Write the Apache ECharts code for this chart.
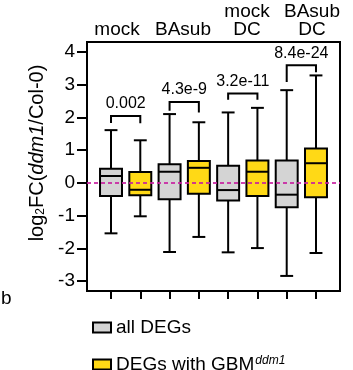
<!DOCTYPE html>
<html><head><meta charset="utf-8">
<script src="https://cdn.jsdelivr.net/npm/echarts@6/dist/echarts.min.js"></script>
<style>html,body{margin:0;padding:0;background:#fff}#c{width:353px;height:370px}</style>
</head><body><div id="c"></div>
<script>
const groups = ['mock', 'BAsub', 'mock\nDC', 'BAsub\nDC'];
const seriesNames = ['all DEGs', 'DEGs with GBM'];
// [min, Q1, median, Q3, max]
const allDEGs = [
  [-1.54, -0.40, 0.21, 0.43, 1.61],
  [-2.11, -0.50, 0.34, 0.57, 2.10],
  [-2.12, -0.54, -0.22, 0.52, 2.15],
  [-2.84, -0.74, -0.36, 0.68, 2.83]
];
const gbmDEGs = [
  [-1.02, -0.38, -0.21, 0.33, 1.30],
  [-1.65, -0.33, 0.46, 0.67, 1.85],
  [-1.99, -0.40, 0.34, 0.68, 2.29],
  [-2.14, -0.44, 0.60, 1.05, 3.28]
];
const pValues = ['0.002', '4.3e-9', '3.2e-11', '8.4e-24'];
const bracketTop = [2.04, 2.47, 2.73, 3.59];
const bracketLeftEnd = [1.83, 2.20, 2.54, 3.08];
const bracketRightEnd = [1.82, 2.15, 2.54, 3.38];
const yTicks = [-3, -2, -1, 0, 1, 2, 3, 4];
const boxPositions = [0, 1, 2, 3, 4, 5, 6, 7];

const FONT = '"Liberation Sans", Arial, Helvetica, sans-serif';
const GREY = '#d4d4d4';
const YELLOW = '#ffd916';

function boxRender(params, api) {
  const x = api.value(0);
  const mn = api.coord([x, api.value(1)]);
  const q1 = api.coord([x, api.value(2)]);
  const md = api.coord([x, api.value(3)]);
  const q3 = api.coord([x, api.value(4)]);
  const mx = api.coord([x, api.value(5)]);
  const unit = api.size([1, 0])[0];
  const hw = unit * 0.375, cw = unit * 0.22;
  const cx = mn[0];
  const ls = { stroke: '#000', lineWidth: 2 };
  return {
    type: 'group',
    children: [
      { type: 'line', shape: { x1: cx, y1: q3[1], x2: cx, y2: mx[1] }, style: ls },
      { type: 'line', shape: { x1: cx, y1: q1[1], x2: cx, y2: mn[1] }, style: ls },
      { type: 'line', shape: { x1: cx - cw, y1: mx[1], x2: cx + cw, y2: mx[1] }, style: ls },
      { type: 'line', shape: { x1: cx - cw, y1: mn[1], x2: cx + cw, y2: mn[1] }, style: ls },
      { type: 'rect', shape: { x: cx - hw, y: q3[1], width: hw * 2, height: q1[1] - q3[1] },
        style: { fill: api.visual('color'), stroke: '#000', lineWidth: 2 } },
      { type: 'line', shape: { x1: cx - hw, y1: md[1], x2: cx + hw, y2: md[1] }, style: ls }
    ]
  };
}

function bracketRender(params, api) {
  const x1 = api.value(0), x2 = api.value(1);
  const t1 = api.coord([x1, api.value(2)]);
  const t2 = api.coord([x2, api.value(2)]);
  const l = api.coord([x1, api.value(3)]);
  const r = api.coord([x2, api.value(4)]);
  return {
    type: 'group',
    children: [
      { type: 'polyline', shape: { points: [l, t1, t2, r] }, style: { stroke: '#000', lineWidth: 2, fill: null } },
      { type: 'text', x: (t1[0] + t2[0]) / 2, y: t1[1] - 4,
        style: { text: pValues[params.dataIndex], fontSize: 16, fontFamily: FONT, fill: '#000', align: 'center', verticalAlign: 'bottom' } }
    ]
  };
}

const greyData = allDEGs.map((d, i) => [boxPositions[2 * i]].concat(d));
const yellowData = gbmDEGs.map((d, i) => [boxPositions[2 * i + 1]].concat(d));
const bracketData = pValues.map((p, i) => [boxPositions[2 * i], boxPositions[2 * i + 1], bracketTop[i], bracketLeftEnd[i], bracketRightEnd[i]]);

const chart = echarts.init(document.getElementById('c'), null, { renderer: 'canvas' });
const topLabelX = [117, 183, 247, 312];
chart.setOption({
  animation: false,
  backgroundColor: '#fff',
  textStyle: { fontFamily: FONT },
  grid: { left: 87, right: 13, top: 42, bottom: 79, show: true, borderColor: '#000', borderWidth: 2 },
  xAxis: {
    type: 'value', min: -0.82, max: 7.82,
    axisLine: { show: true, onZero: false, lineStyle: { color: '#000', width: 2 } },
    axisTick: { show: true, customValues: boxPositions, length: 8, lineStyle: { color: '#000', width: 2 } },
    axisLabel: { show: false },
    splitLine: { show: false }
  },
  yAxis: {
    type: 'value', min: -3.3, max: 4.3,
    axisLine: { show: true, onZero: false, lineStyle: { color: '#000', width: 2 } },
    axisTick: { show: true, customValues: yTicks, length: 10, lineStyle: { color: '#000', width: 2 } },
    axisLabel: { customValues: yTicks, fontSize: 19, color: '#000', margin: 12, fontFamily: FONT },
    splitLine: { show: false }
  },
  legend: {
    orient: 'vertical', left: 92, top: 318, height: 80, padding: 0,
    itemWidth: 18, itemHeight: 10, itemGap: 18,
    data: [
      { name: seriesNames[0], icon: 'rect', itemStyle: { color: GREY, borderColor: '#000', borderWidth: 2 } },
      { name: seriesNames[1], icon: 'rect', itemStyle: { color: YELLOW, borderColor: '#000', borderWidth: 2 } }
    ],
    formatter: function (name) {
      return name === seriesNames[1] ? '{a|' + name + '}{s|ddm1}' : '{a|' + name + '}';
    },
    textStyle: {
      color: '#000', fontSize: 19, fontFamily: FONT,
      rich: {
        a: { fontSize: 19, color: '#000', fontFamily: FONT },
        s: { fontSize: 12, fontStyle: 'italic', color: '#000', fontFamily: FONT, verticalAlign: 'top', padding: [0, 0, 6, 1] }
      }
    }
  },
  graphic: [
    { type: 'text', x: 37, y: 153, rotation: Math.PI / 2,
      style: {
        text: '{n|log}{sub|2}{n|FC(}{i|ddm1}{n|/Col-0)}',
        align: 'center', verticalAlign: 'middle', fill: '#000',
        rich: {
          n: { fontSize: 20, fontFamily: FONT, fill: '#000' },
          sub: { fontSize: 12, fontFamily: FONT, fill: '#000', verticalAlign: 'bottom', padding: [7, 0, 0, 0] },
          i: { fontSize: 20, fontFamily: FONT, fontStyle: 'italic', fill: '#000' }
        }
      } },
    { type: 'text', x: 1, y: 299, style: { text: 'b', fontSize: 19, fontFamily: FONT, fill: '#000', verticalAlign: 'middle' } }
  ].concat(groups.map((g, i) => ({
    type: 'text', x: topLabelX[i], y: 39,
    style: { text: g, fontSize: 19, lineHeight: 18, fontFamily: FONT, fill: '#000', align: 'center', verticalAlign: 'bottom' }
  }))),
  series: [
    { name: seriesNames[0], type: 'custom', renderItem: boxRender, data: greyData, itemStyle: { color: GREY },
      encode: { x: 0, y: [1, 2, 3, 4, 5] } },
    { name: seriesNames[1], type: 'custom', renderItem: boxRender, data: yellowData, itemStyle: { color: YELLOW },
      encode: { x: 0, y: [1, 2, 3, 4, 5] } },
    { name: 'brackets', type: 'custom', renderItem: bracketRender, data: bracketData,
      encode: { x: [0, 1], y: [2, 3, 4] }, z: 3,
      markLine: {
        silent: true, symbol: 'none', label: { show: false },
        lineStyle: { color: 'rgba(200,30,160,0.85)', width: 2, type: [4, 3] },
        data: [{ yAxis: 0 }]
      } }
  ]
});
</script></body></html>
